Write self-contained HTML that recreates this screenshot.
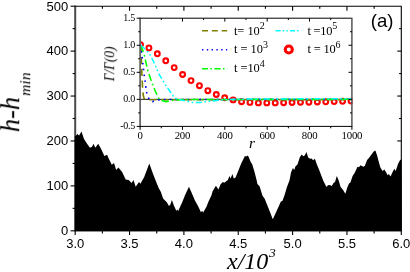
<!DOCTYPE html>
<html><head><meta charset="utf-8"><title>fig</title>
<style>html,body{margin:0;padding:0;background:#fff;overflow:hidden;}svg{display:block;}text{font-family:"Liberation Sans",sans-serif;fill:#000;filter:url(#gs);}.se{font-family:"Liberation Serif",serif;}.it{font-family:"Liberation Serif",serif;font-style:italic;}</style></head><body>
<svg width="410" height="272" viewBox="0 0 410 272">
<defs><filter id="gs" x="-20%" y="-20%" width="140%" height="140%" color-interpolation-filters="sRGB"><feColorMatrix type="saturate" values="0"/></filter></defs>
<rect x="0" y="0" width="410" height="272" fill="#fff"/>
<line x1="75.2" y1="5.6000000000000005" x2="75.2" y2="231.3" stroke-width="2" stroke="#4a4a4a"/>
<polygon fill="#000" points="74.8,231.3 74.8,136.2 75.6,136.0 77.4,134.1 79.1,135.6 81.5,131.6 84,139 86.9,143.4 89.9,147.8 92.1,146.8 93.5,143.8 95.3,147.8 98.2,143.8 100.9,148.5 104.4,155.9 107.1,154.7 108.8,158.8 111.8,164.7 114,162.9 116.2,169.9 118.4,167.6 122.1,172.1 125.7,179.4 128.7,180.1 131.6,183.1 133.5,179.9 135.7,186.8 139,182.1 140.4,183.8 144.1,177.2 149.3,163.5 152.9,173.5 156.6,183.1 158.8,188.2 160.9,192 163.1,198.6 166.8,202.3 169,206 170.4,204.5 171.9,200.1 174.1,206 176.3,210.8 177.4,209.4 178.2,211.1 182.2,202.3 185.3,194.4 189,186.8 192.6,195.1 194.7,200.1 198.4,206.7 200.9,212.3 202.1,210.8 203.2,212.6 206.5,206.7 208.2,202.3 211.6,194.9 212.5,191.6 215.9,185.7 218.4,189.4 220.6,184.3 222.8,182.1 224.3,182.8 227.9,179.9 229.4,175.9 230.6,178.4 232.4,174 233.8,178.4 235.6,177.6 238.2,170.9 241.2,163.5 244.9,155.9 246.3,156.5 247.4,155.4 248.5,156.5 250.7,162.1 252.2,164.3 254.4,171.6 256.6,180 257.4,184 259.6,186.2 262.5,195.7 264.7,198.7 269.1,209.7 272.8,219.3 276.5,211.2 280.9,201.6 282.4,200.9 284.6,195 286.8,187.6 289.6,180 291,172.4 292.9,167.9 294.3,170.1 295.4,166.5 297.6,164.3 299.9,156.9 301.8,154.4 303.2,156.2 304.7,155.4 306.5,152.1 308.2,157.6 310.1,158.8 311.6,158.4 313.1,160.3 314.9,158.8 316.8,164.3 319,169.4 321.2,175.3 323.2,180.4 324.7,183.4 326.5,187.1 327.9,185.3 329.9,184.9 331.8,185.9 333.5,182.9 335,181.9 336.8,176 338.7,180.4 340.6,187.1 343.1,190 345.3,193.7 347.5,187.1 349,183.4 350.4,182.6 352.6,176 354.6,173.1 357.5,166.8 359,167.2 360.4,165.3 363.4,166.8 364.9,165.7 367.1,159.9 369.3,157.6 372.2,153.5 373.7,151.5 375.4,150.6 377.1,155.4 378.8,162.1 380.3,167.2 382.5,170.9 384.4,169.4 386.2,172.4 387.6,175.3 388.8,174.1 390.6,176.5 392.1,173.1 394.3,168.7 395.7,170.9 398.2,163.5 400.1,159.9 401.5,159.4 401.7,231.3"/>
<g stroke="#000" fill="none">
<line x1="75.2" y1="6.2" x2="401.8" y2="6.2" stroke-width="1.1"/>
<line x1="401.3" y1="6.2" x2="401.3" y2="231.3" stroke-width="1.1"/>
<line x1="75.2" y1="230.8" x2="401.3" y2="230.8" stroke-width="1.1"/>
<line x1="70.60" y1="230.80" x2="75.2" y2="230.80" stroke-width="1.1"/>
<line x1="72.60" y1="208.34" x2="75.2" y2="208.34" stroke-width="1.1"/>
<line x1="399.10" y1="208.34" x2="401.3" y2="208.34" stroke-width="1.1"/>
<line x1="70.60" y1="185.88" x2="75.2" y2="185.88" stroke-width="1.1"/>
<line x1="397.30" y1="185.88" x2="401.3" y2="185.88" stroke-width="1.1"/>
<line x1="72.60" y1="163.42" x2="75.2" y2="163.42" stroke-width="1.1"/>
<line x1="399.10" y1="163.42" x2="401.3" y2="163.42" stroke-width="1.1"/>
<line x1="70.60" y1="140.96" x2="75.2" y2="140.96" stroke-width="1.1"/>
<line x1="397.30" y1="140.96" x2="401.3" y2="140.96" stroke-width="1.1"/>
<line x1="72.60" y1="118.50" x2="75.2" y2="118.50" stroke-width="1.1"/>
<line x1="399.10" y1="118.50" x2="401.3" y2="118.50" stroke-width="1.1"/>
<line x1="70.60" y1="96.04" x2="75.2" y2="96.04" stroke-width="1.1"/>
<line x1="397.30" y1="96.04" x2="401.3" y2="96.04" stroke-width="1.1"/>
<line x1="72.60" y1="73.58" x2="75.2" y2="73.58" stroke-width="1.1"/>
<line x1="399.10" y1="73.58" x2="401.3" y2="73.58" stroke-width="1.1"/>
<line x1="70.60" y1="51.12" x2="75.2" y2="51.12" stroke-width="1.1"/>
<line x1="397.30" y1="51.12" x2="401.3" y2="51.12" stroke-width="1.1"/>
<line x1="72.60" y1="28.66" x2="75.2" y2="28.66" stroke-width="1.1"/>
<line x1="399.10" y1="28.66" x2="401.3" y2="28.66" stroke-width="1.1"/>
<line x1="70.60" y1="6.20" x2="75.2" y2="6.20" stroke-width="1.1"/>
<line x1="75.20" y1="230.8" x2="75.20" y2="235.00" stroke-width="1.1"/>
<line x1="102.38" y1="230.8" x2="102.38" y2="233.40" stroke-width="1.1"/>
<line x1="102.38" y1="6.2" x2="102.38" y2="8.70" stroke-width="1.1"/>
<line x1="129.55" y1="230.8" x2="129.55" y2="235.00" stroke-width="1.1"/>
<line x1="129.55" y1="6.2" x2="129.55" y2="10.70" stroke-width="1.1"/>
<line x1="156.73" y1="230.8" x2="156.73" y2="233.40" stroke-width="1.1"/>
<line x1="156.73" y1="6.2" x2="156.73" y2="8.70" stroke-width="1.1"/>
<line x1="183.90" y1="230.8" x2="183.90" y2="235.00" stroke-width="1.1"/>
<line x1="183.90" y1="6.2" x2="183.90" y2="10.70" stroke-width="1.1"/>
<line x1="211.08" y1="230.8" x2="211.08" y2="233.40" stroke-width="1.1"/>
<line x1="211.08" y1="6.2" x2="211.08" y2="8.70" stroke-width="1.1"/>
<line x1="238.25" y1="230.8" x2="238.25" y2="235.00" stroke-width="1.1"/>
<line x1="238.25" y1="6.2" x2="238.25" y2="10.70" stroke-width="1.1"/>
<line x1="265.43" y1="230.8" x2="265.43" y2="233.40" stroke-width="1.1"/>
<line x1="265.43" y1="6.2" x2="265.43" y2="8.70" stroke-width="1.1"/>
<line x1="292.60" y1="230.8" x2="292.60" y2="235.00" stroke-width="1.1"/>
<line x1="292.60" y1="6.2" x2="292.60" y2="10.70" stroke-width="1.1"/>
<line x1="319.78" y1="230.8" x2="319.78" y2="233.40" stroke-width="1.1"/>
<line x1="319.78" y1="6.2" x2="319.78" y2="8.70" stroke-width="1.1"/>
<line x1="346.95" y1="230.8" x2="346.95" y2="235.00" stroke-width="1.1"/>
<line x1="346.95" y1="6.2" x2="346.95" y2="10.70" stroke-width="1.1"/>
<line x1="374.12" y1="230.8" x2="374.12" y2="233.40" stroke-width="1.1"/>
<line x1="374.12" y1="6.2" x2="374.12" y2="8.70" stroke-width="1.1"/>
<line x1="401.30" y1="230.8" x2="401.30" y2="235.00" stroke-width="1.1"/>
</g>
<text x="68.20" y="235.15" font-size="13" text-anchor="end">0</text>
<text x="68.20" y="190.23" font-size="13" text-anchor="end">100</text>
<text x="68.20" y="145.31" font-size="13" text-anchor="end">200</text>
<text x="68.20" y="100.39" font-size="13" text-anchor="end">300</text>
<text x="68.20" y="55.47" font-size="13" text-anchor="end">400</text>
<text x="68.20" y="10.55" font-size="13" text-anchor="end">500</text>
<text x="75.20" y="248.2" font-size="13" text-anchor="middle">3.0</text>
<text x="129.55" y="248.2" font-size="13" text-anchor="middle">3.5</text>
<text x="183.90" y="248.2" font-size="13" text-anchor="middle">4.0</text>
<text x="238.25" y="248.2" font-size="13" text-anchor="middle">4.5</text>
<text x="292.60" y="248.2" font-size="13" text-anchor="middle">5.0</text>
<text x="346.95" y="248.2" font-size="13" text-anchor="middle">5.5</text>
<text x="401.30" y="248.2" font-size="13" text-anchor="middle">6.0</text>
<text class="it" x="227" y="268.8" font-size="24">x/10<tspan font-size="13.5" dx="0.6" dy="-11.5">3</tspan></text>
<text class="it" transform="translate(19.2,132.2) rotate(-90)" font-size="26.5">h-h<tspan font-size="15.6" dx="1" dy="10.8">min</tspan></text>
<text x="370.7" y="27" font-size="18.6">(a)</text>
<rect x="140.1" y="18.2" width="211.79999999999998" height="108.2" fill="#fff"/>
<line x1="140.1" y1="99.35" x2="351.9" y2="99.35" stroke="#000" stroke-width="0.9"/>
<clipPath id="ic"><rect x="140.1" y="18.2" width="212.39999999999998" height="108.2"/></clipPath>
<g clip-path="url(#ic)" fill="none" stroke="#ff0000" stroke-width="2.1">
<circle cx="140.50" cy="44.6" r="2.4"/>
<circle cx="148.92" cy="47.9" r="2.4"/>
<circle cx="157.34" cy="53.8" r="2.4"/>
<circle cx="165.76" cy="60.8" r="2.4"/>
<circle cx="174.18" cy="67.6" r="2.4"/>
<circle cx="182.60" cy="74.5" r="2.4"/>
<circle cx="191.02" cy="80.6" r="2.4"/>
<circle cx="199.44" cy="85.7" r="2.4"/>
<circle cx="207.86" cy="90.7" r="2.4"/>
<circle cx="216.28" cy="94.5" r="2.4"/>
<circle cx="224.70" cy="97.8" r="2.4"/>
<circle cx="233.12" cy="99.9" r="2.4"/>
<circle cx="241.54" cy="101.7" r="2.4"/>
<circle cx="249.96" cy="102.4" r="2.4"/>
<circle cx="258.38" cy="102.9" r="2.4"/>
<circle cx="266.80" cy="102.9" r="2.4"/>
<circle cx="275.22" cy="102.9" r="2.4"/>
<circle cx="283.64" cy="102.7" r="2.4"/>
<circle cx="292.06" cy="102.5" r="2.4"/>
<circle cx="300.48" cy="102.3" r="2.4"/>
<circle cx="308.90" cy="102.2" r="2.4"/>
<circle cx="317.32" cy="102.0" r="2.4"/>
<circle cx="325.74" cy="101.8" r="2.4"/>
<circle cx="334.16" cy="101.6" r="2.4"/>
<circle cx="342.58" cy="101.3" r="2.4"/>
<circle cx="351.00" cy="101.1" r="2.4"/>
</g>
<path d="M141.0,45.2 L141.4,60.0 L141.9,74.4 L142.6,88.0 L143.2,95.0 L144.0,98.3 L145.7,99.6 L150.0,99.8 L351.9,99.8" fill="none" stroke="#808000" stroke-width="1.6" stroke-dasharray="7.2,4.6"/>
<path d="M140.8,45.2 L142.2,58.0 L144.1,74.4 L145.0,80.3 L145.6,85.4 L146.5,92.0 L148.2,97.5 L150.0,100.4 L152.4,101.6 L155.0,100.9 L157.8,100.0 L165.0,99.5 L351.9,99.3" fill="none" stroke="#0000ff" stroke-width="1.6" stroke-dasharray="1.6,4.3"/>
<path d="M140.8,45.2 L144.1,54.1 L147.5,69.6 L151.0,80.0 L155.0,90.5 L158.5,98.0 L161.0,100.4 L165.9,101.6 L170.0,100.9 L174.7,99.9 L185.0,99.5 L351.9,99.3" fill="none" stroke="#00ff00" stroke-width="1.6" stroke-dasharray="7.3,3,1.7,3"/>
<path d="M140.8,45.2 L145.0,49.0 L149.7,54.1 L154.0,62.5 L159.3,74.7 L165.0,84.0 L170.0,91.5 L174.7,98.0 L179.0,99.6 L183.5,100.4 L191.6,102.4 L200.0,102.4 L210.0,101.2 L222.0,99.9 L235.0,99.3 L260.0,98.9 L351.9,98.8" fill="none" stroke="#00ffff" stroke-width="1.5" stroke-dasharray="6,2.6,1.6,2.6,1.6,2.6"/>
<g stroke="#000" fill="none">
<line x1="140.1" y1="17.7" x2="140.1" y2="126.9" stroke-width="1.7" stroke="#606060"/>
<line x1="140.1" y1="18.2" x2="352.4" y2="18.2" stroke-width="1.0"/>
<line x1="351.9" y1="18.2" x2="351.9" y2="126.9" stroke-width="1.5" stroke="#555"/>
<line x1="140.1" y1="126.4" x2="351.9" y2="126.4" stroke-width="1.0"/>
<line x1="136.70" y1="126.40" x2="140.1" y2="126.40" stroke-width="1.0"/>
<line x1="138.20" y1="112.88" x2="140.1" y2="112.88" stroke-width="1.0"/>
<line x1="350.00" y1="112.88" x2="351.9" y2="112.88" stroke-width="1.0"/>
<line x1="136.70" y1="99.35" x2="140.1" y2="99.35" stroke-width="1.0"/>
<line x1="348.50" y1="99.35" x2="351.9" y2="99.35" stroke-width="1.0"/>
<line x1="138.20" y1="85.83" x2="140.1" y2="85.83" stroke-width="1.0"/>
<line x1="350.00" y1="85.83" x2="351.9" y2="85.83" stroke-width="1.0"/>
<line x1="136.70" y1="72.30" x2="140.1" y2="72.30" stroke-width="1.0"/>
<line x1="348.50" y1="72.30" x2="351.9" y2="72.30" stroke-width="1.0"/>
<line x1="138.20" y1="58.78" x2="140.1" y2="58.78" stroke-width="1.0"/>
<line x1="350.00" y1="58.78" x2="351.9" y2="58.78" stroke-width="1.0"/>
<line x1="136.70" y1="45.25" x2="140.1" y2="45.25" stroke-width="1.0"/>
<line x1="348.50" y1="45.25" x2="351.9" y2="45.25" stroke-width="1.0"/>
<line x1="138.20" y1="31.73" x2="140.1" y2="31.73" stroke-width="1.0"/>
<line x1="350.00" y1="31.73" x2="351.9" y2="31.73" stroke-width="1.0"/>
<line x1="136.70" y1="18.20" x2="140.1" y2="18.20" stroke-width="1.0"/>
<line x1="140.10" y1="126.4" x2="140.10" y2="129.80" stroke-width="1.0"/>
<line x1="161.28" y1="126.4" x2="161.28" y2="128.30" stroke-width="1.0"/>
<line x1="161.28" y1="18.2" x2="161.28" y2="20.10" stroke-width="1.0"/>
<line x1="182.46" y1="126.4" x2="182.46" y2="129.80" stroke-width="1.0"/>
<line x1="182.46" y1="18.2" x2="182.46" y2="21.60" stroke-width="1.0"/>
<line x1="203.64" y1="126.4" x2="203.64" y2="128.30" stroke-width="1.0"/>
<line x1="203.64" y1="18.2" x2="203.64" y2="20.10" stroke-width="1.0"/>
<line x1="224.82" y1="126.4" x2="224.82" y2="129.80" stroke-width="1.0"/>
<line x1="224.82" y1="18.2" x2="224.82" y2="21.60" stroke-width="1.0"/>
<line x1="246.00" y1="126.4" x2="246.00" y2="128.30" stroke-width="1.0"/>
<line x1="246.00" y1="18.2" x2="246.00" y2="20.10" stroke-width="1.0"/>
<line x1="267.18" y1="126.4" x2="267.18" y2="129.80" stroke-width="1.0"/>
<line x1="267.18" y1="18.2" x2="267.18" y2="21.60" stroke-width="1.0"/>
<line x1="288.36" y1="126.4" x2="288.36" y2="128.30" stroke-width="1.0"/>
<line x1="288.36" y1="18.2" x2="288.36" y2="20.10" stroke-width="1.0"/>
<line x1="309.54" y1="126.4" x2="309.54" y2="129.80" stroke-width="1.0"/>
<line x1="309.54" y1="18.2" x2="309.54" y2="21.60" stroke-width="1.0"/>
<line x1="330.72" y1="126.4" x2="330.72" y2="128.30" stroke-width="1.0"/>
<line x1="330.72" y1="18.2" x2="330.72" y2="20.10" stroke-width="1.0"/>
<line x1="351.90" y1="126.4" x2="351.90" y2="129.80" stroke-width="1.0"/>
</g>
<text class="se" x="135.0" y="129.20" font-size="10" letter-spacing="-0.25" text-anchor="end">-0.5</text>
<text class="se" x="135.0" y="102.15" font-size="10" letter-spacing="-0.25" text-anchor="end">0.0</text>
<text class="se" x="135.0" y="75.10" font-size="10" letter-spacing="-0.25" text-anchor="end">0.5</text>
<text class="se" x="135.0" y="48.05" font-size="10" letter-spacing="-0.25" text-anchor="end">1.0</text>
<text class="se" x="135.0" y="21.00" font-size="10" letter-spacing="-0.25" text-anchor="end">1.5</text>
<text class="se" x="140.10" y="139.2" font-size="10.8" letter-spacing="-0.2" text-anchor="middle">0</text>
<text class="se" x="182.46" y="139.2" font-size="10.8" letter-spacing="-0.2" text-anchor="middle">200</text>
<text class="se" x="224.82" y="139.2" font-size="10.8" letter-spacing="-0.2" text-anchor="middle">400</text>
<text class="se" x="267.18" y="139.2" font-size="10.8" letter-spacing="-0.2" text-anchor="middle">600</text>
<text class="se" x="309.54" y="139.2" font-size="10.8" letter-spacing="-0.2" text-anchor="middle">800</text>
<text class="se" x="351.90" y="139.2" font-size="10.8" letter-spacing="-0.2" text-anchor="middle">1000</text>
<text class="it" x="252" y="148.2" font-size="15.5" text-anchor="middle">r</text>
<text class="it" transform="translate(114.2,81.2) rotate(-90)" font-size="14.5" textLength="34.6" lengthAdjust="spacingAndGlyphs">&#915;/&#915;(0)</text>
<g fill="none">
<line x1="202" y1="30.7" x2="227.2" y2="30.7" stroke="#808000" stroke-width="1.4" stroke-dasharray="6,3.8"/>
<line x1="202" y1="49.7" x2="227.2" y2="49.7" stroke="#0000ff" stroke-width="1.4" stroke-dasharray="1.4,3.4"/>
<line x1="202" y1="68.8" x2="227.2" y2="68.8" stroke="#00ff00" stroke-width="1.5" stroke-dasharray="6,2.5,1.5,2.5"/>
<line x1="275.6" y1="30.7" x2="299.3" y2="30.7" stroke="#00ffff" stroke-width="1.4" stroke-dasharray="4.9,2.2,1.5,2.2,1.5,2.2"/>
<circle cx="288.8" cy="49.5" r="3.55" stroke="#ff0000" stroke-width="3.1"/>
</g>
<text class="se" x="233.9" y="34.6" font-size="12.4" letter-spacing="0">t= 10<tspan font-size="10" dy="-5.2">2</tspan></text>
<text class="se" x="233.9" y="53.0" font-size="12.4" letter-spacing="0">t = 10<tspan font-size="10" dy="-5.2">3</tspan></text>
<text class="se" x="233.9" y="72.4" font-size="12.4" letter-spacing="0">t =10<tspan font-size="10" dy="-5.2">4</tspan></text>
<text class="se" x="307.4" y="34.6" font-size="12.4" letter-spacing="-0.2">t =10<tspan font-size="10" dy="-5.9">5</tspan></text>
<text class="se" x="307.4" y="52.8" font-size="12.4" letter-spacing="-0.15">t = 10<tspan font-size="10" dy="-4.7">6</tspan></text>
</svg></body></html>
